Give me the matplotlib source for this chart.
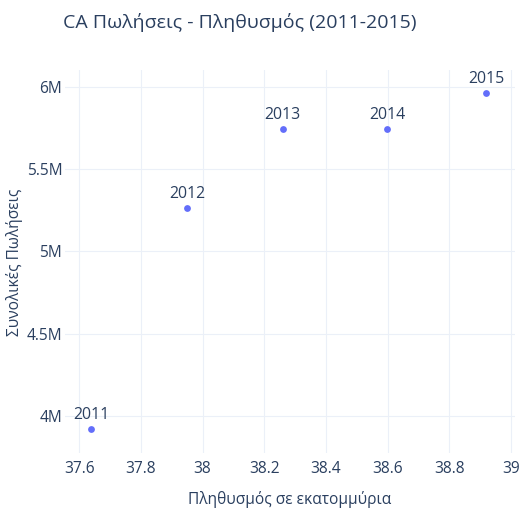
import matplotlib
matplotlib.use("Agg")
import matplotlib.pyplot as plt
from matplotlib.ticker import FuncFormatter, MultipleLocator

plt.rcParams['font.family'] = ['Open Sans', 'DejaVu Sans']

# data
years = ["2011", "2012", "2013", "2014", "2015"]
population = [37.638, 37.950, 38.260, 38.598, 38.919]      # millions
sales = [3921000, 5262000, 5742000, 5745000, 5959000]

TXT = '#2a3f5f'
GRID = '#ebf0f8'
MARKER = '#636efa'

fig = plt.figure(figsize=(5.2, 5.14), dpi=100)
ax = fig.add_axes([65/520, 61/514, 450/520, 383/514])

ax.scatter(population, sales, s=24, color=MARKER, zorder=3, linewidths=0)
for x, y, lab in zip(population, sales, years):
    ax.annotate(lab, (x, y), xytext=(0, 7.3), textcoords='offset points',
                ha='center', va='baseline', fontsize=11.4, color=TXT, zorder=4)

ax.set_xlim(37.554, 39.013)
ax.set_ylim(3777000, 6101000)
ax.xaxis.set_major_locator(MultipleLocator(0.2))
ax.yaxis.set_major_locator(MultipleLocator(500000))
ax.xaxis.set_major_formatter(FuncFormatter(lambda v, p: '{:g}'.format(round(v, 2))))
ax.yaxis.set_major_formatter(FuncFormatter(lambda v, p: '{:g}M'.format(round(v / 1e6, 2))))

ax.grid(True, color=GRID, linewidth=0.8)
ax.set_axisbelow(True)
for s in ax.spines.values():
    s.set_visible(False)
ax.tick_params(length=0, labelsize=11.2, colors=TXT)
ax.tick_params(axis='x', pad=6)
ax.tick_params(axis='y', pad=2)

# axis titles placed on the figure so they are not pushed off the edge
fig.text(290/520, 1 - 500/514, 'Πληθυσμός σε εκατομμύρια',
         fontsize=11.2, color=TXT, ha='center', va='center')
fig.text(15/520, 1 - 262/514, 'Συνολικές Πωλήσεις', rotation=90,
         fontsize=11.2, color=TXT, ha='center', va='center')

fig.text(63/520, 1 - 22/514, 'CA Πωλήσεις - Πληθυσμός (2011-2015)',
         fontsize=14, color=TXT, ha='left', va='center')

fig.savefig('out.png', dpi=100)
